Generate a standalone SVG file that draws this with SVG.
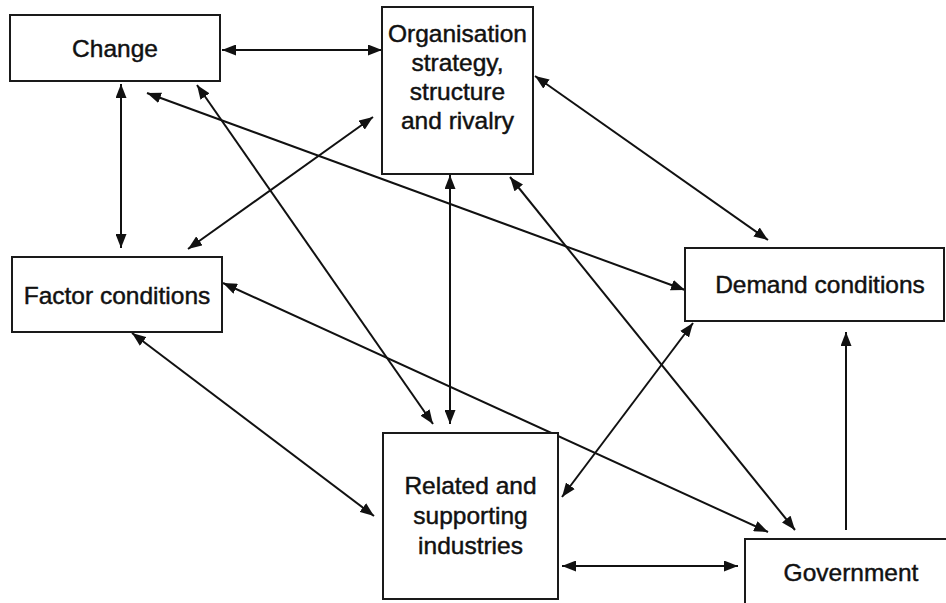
<svg xmlns="http://www.w3.org/2000/svg" width="946" height="603" viewBox="0 0 946 603">
  <style>
    .box { fill: #ffffff; stroke: #1a1a1a; stroke-width: 2; }
    .label { font-family: "Liberation Sans", Arial, sans-serif; font-size: 24.5px; fill: #111111; stroke: #111111; stroke-width: 0.45; text-anchor: middle; }
    .link { stroke: #111111; stroke-width: 2; fill: none; }
    .both { marker-start: url(#head); marker-end: url(#head); }
    .one { marker-end: url(#head); }
  </style>
  <defs>
    <marker id="head" viewBox="0 0 14 11" refX="14" refY="5.5" markerWidth="14" markerHeight="11" markerUnits="userSpaceOnUse" orient="auto-start-reverse">
      <path d="M0,0 L14,5.5 L0,11 z" fill="#111111"/>
    </marker>
  </defs>

  <rect width="946" height="603" fill="#ffffff"/>

  <g id="connectors">
    <line class="link both" x1="222" y1="50" x2="382" y2="50"/>
    <line class="link both" x1="121" y1="84" x2="121" y2="248"/>
    <line class="link both" x1="147" y1="93" x2="685" y2="290"/>
    <line class="link both" x1="197" y1="85" x2="433" y2="424"/>
    <line class="link both" x1="373" y1="117" x2="188" y2="249"/>
    <line class="link both" x1="450" y1="175" x2="450" y2="424"/>
    <line class="link both" x1="510" y1="177" x2="795" y2="530"/>
    <line class="link both" x1="535" y1="76" x2="768" y2="240"/>
    <line class="link both" x1="223" y1="283" x2="768" y2="532"/>
    <line class="link both" x1="132" y1="333" x2="374" y2="516"/>
    <line class="link both" x1="693" y1="323" x2="562" y2="497"/>
    <line class="link both" x1="562" y1="566" x2="738" y2="566"/>
    <line class="link one" x1="846" y1="530" x2="846" y2="332"/>
  </g>

  <g id="change">
    <rect class="box" x="10" y="15" width="210" height="66"/>
    <text class="label" x="115" y="57">Change</text>
  </g>

  <g id="organisation">
    <rect class="box" x="382" y="7" width="151" height="167"/>
    <text class="label" x="457.5" y="42">Organisation</text>
    <text class="label" x="457.5" y="71">strategy,</text>
    <text class="label" x="457.5" y="100">structure</text>
    <text class="label" x="457.5" y="129">and rivalry</text>
  </g>

  <g id="factor">
    <rect class="box" x="12" y="257" width="210" height="75"/>
    <text class="label" x="117" y="304">Factor conditions</text>
  </g>

  <g id="demand">
    <rect class="box" x="685" y="248" width="259" height="73"/>
    <text class="label" x="820" y="293">Demand conditions</text>
  </g>

  <g id="related">
    <rect class="box" x="383" y="433" width="175" height="166"/>
    <text class="label" x="470.5" y="494">Related and</text>
    <text class="label" x="470.5" y="524">supporting</text>
    <text class="label" x="470.5" y="554">industries</text>
  </g>

  <g id="government">
    <rect class="box" x="745" y="539" width="220" height="90"/>
    <text class="label" x="851" y="581">Government</text>
  </g>
</svg>
